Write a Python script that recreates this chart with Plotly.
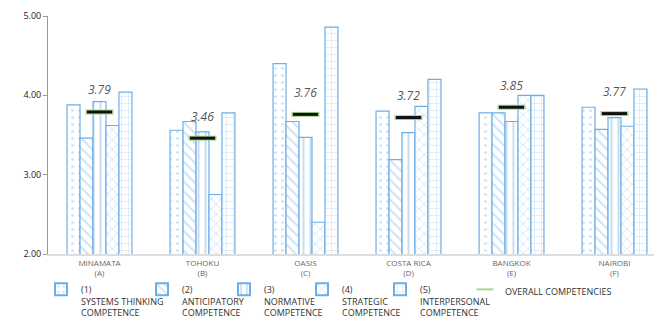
import plotly.graph_objects as go

categories = ["MINAMATA<br>(A)", "TOHOKU<br>(B)", "OASIS<br>(C)", "COSTA RICA<br>(D)", "BANGKOK<br>(E)", "NAIROBI<br>(F)"]
series_names = [
    "(1)<br>SYSTEMS THINKING<br>COMPETENCE",
    "(2)<br>ANTICIPATORY<br>COMPETENCE",
    "(3)<br>NORMATIVE<br>COMPETENCE",
    "(4)<br>STRATEGIC<br>COMPETENCE",
    "(5)<br>INTERPERSONAL<br>COMPETENCE",
]
systems_thinking = [3.88, 3.56, 4.40, 3.80, 3.78, 3.85]
anticipatory = [3.46, 3.67, 3.67, 3.19, 3.78, 3.57]
normative = [3.92, 3.54, 3.47, 3.53, 3.67, 3.72]
strategic = [3.62, 2.75, 2.40, 3.86, 4.00, 3.61]
interpersonal = [4.04, 3.78, 4.86, 4.20, 4.00, 4.08]
overall = [3.79, 3.46, 3.76, 3.72, 3.85, 3.77]
overall_name = "OVERALL COMPETENCIES"

series_values = [systems_thinking, anticipatory, normative, strategic, interpersonal]
patterns = [".", "\\", "|", "x", "+"]
solidities = [0.12, 0.25, 0.3, 0.2, 0.15]

outline = "#6EAEE6"
fg = "#8EC0EC"
W, H = 662, 322
ML, MR, MT, MB = 40, 4, 8, 69
PW, PH = W - ML - MR, 238
legend_text_x = [81, 182, 264, 342, 420, 505]
legend_ids = ["legend", "legend2", "legend3", "legend4", "legend5", "legend6"]

fig = go.Figure()
for i, (name, vals, pat, sol) in enumerate(zip(series_names, series_values, patterns, solidities)):
    fig.add_trace(go.Bar(
        x=categories, y=vals, name=name, legend=legend_ids[i],
        marker=dict(color="white", line=dict(color=outline, width=1.2),
                    pattern=dict(shape=pat, fgcolor=fg, bgcolor="white", size=7, solidity=sol)),
    ))

fig.add_trace(go.Scatter(
    x=categories, y=overall, name=overall_name, mode="markers", legend=legend_ids[5],
    marker=dict(symbol="line-ew", size=20, line=dict(color="#A8D58C", width=5)),
))
fig.add_trace(go.Scatter(
    x=categories, y=overall, mode="markers", showlegend=False,
    marker=dict(symbol="line-ew", size=18, line=dict(color="#111111", width=3)),
))

for c, v in zip(categories, overall):
    fig.add_annotation(x=c, y=v, text=f"<i>{v:.2f}</i>", showarrow=False,
                       yshift=22, font=dict(size=12, color="#555555"))

layout_legends = {}
for lid, tx in zip(legend_ids, legend_text_x):
    layout_legends[lid] = dict(
        xref="paper", yref="paper", x=(tx - 48 - ML) / PW, xanchor="left",
        y=-(276 - 253) / PH, yanchor="top", font=dict(size=9, color="#333333"),
        valign="top", itemwidth=30, itemsizing="constant",
        bgcolor="rgba(0,0,0,0)", borderwidth=0,
    )

fig.update_layout(
    width=W, height=H,
    margin=dict(l=ML, r=MR, t=MT, b=MB),
    paper_bgcolor="white", plot_bgcolor="white",
    font=dict(family="Open Sans, sans-serif", color="#333333"),
    barmode="group", bargap=0.37, bargroupgap=0,
    showlegend=True,
    **layout_legends,
)
fig.update_xaxes(showline=True, linecolor="#dddddd", linewidth=2, showgrid=False,
                 tickfont=dict(size=8, color="#666666"), ticks="", automargin=False)
fig.update_yaxes(range=[2, 5], tickvals=[2, 3, 4, 5], tickformat=".2f", showgrid=False,
                 showline=True, linecolor="#999999", linewidth=1, ticks="outside",
                 ticklen=4, tickcolor="#999999", zeroline=False, automargin=False,
                 tickfont=dict(size=9, color="#222222"))

fig.write_html("out.html")
